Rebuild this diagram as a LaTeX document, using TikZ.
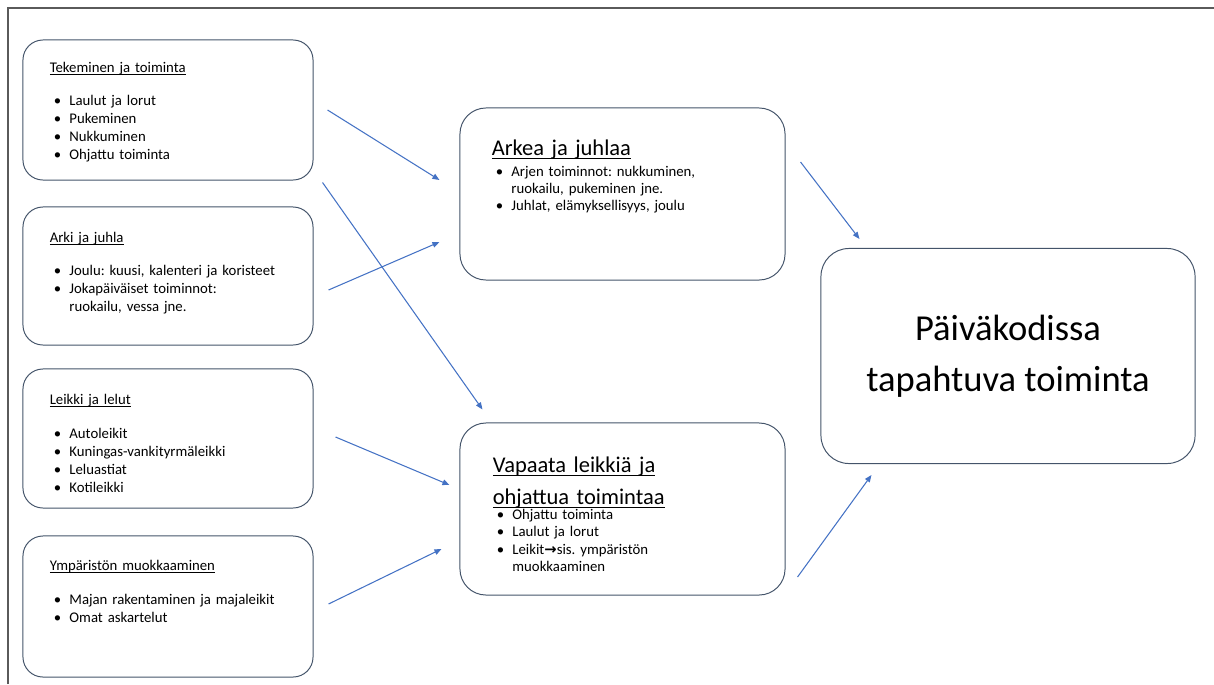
\documentclass[tikz,border=0pt]{standalone}
\usepackage{fontspec}
\setmainfont{Carlito}
\newfontfamily\symfont{DejaVu Sans}
\usetikzlibrary{arrows.meta}
\definecolor{boxline}{RGB}{68,84,106}
\definecolor{arrowblue}{RGB}{68,114,196}
\definecolor{frameline}{RGB}{90,90,90}
\frenchspacing
% underline at a fixed depth, as in the slide
\newcommand{\hdr}[1]{\leavevmode\setbox0\hbox{#1}\rlap{\rule[-0.16em]{\wd0}{0.055em}}#1}
\newcommand{\bul}{\leavevmode\hspace*{3pt}\makebox[11pt][l]{\textbullet}}
\newcommand{\cont}{\leavevmode\hspace*{14pt}}

\begin{document}
\begin{tikzpicture}[
    x=0.025cm, y=-0.025cm,
    topic/.style = {shape=rectangle, rounded corners=0.5cm, draw=boxline, line width=0.7pt, minimum width=7.25cm, inner sep=0},
    theme/.style = {topic, rounded corners=0.65cm, minimum width=8.125cm, minimum height=4.3cm},
    goal/.style = {topic, rounded corners=0.7cm, minimum width=9.35cm, minimum height=5.375cm, align=center, font=\fontsize{26}{36}\selectfont},
    list/.style = {anchor=base west, inner sep=0, text width=6.5cm, align=left, font=\fontsize{10.5}{12.8}\selectfont},
    title/.style = {anchor=base west, inner sep=0, text width=7cm, align=left, font=\fontsize{16}{23}\selectfont},
    link/.style = {draw=arrowblue, line width=0.75pt, -{Triangle[length=5pt,width=4pt]}}
  ]
  \useasboundingbox (0,0) rectangle (1214,684);
  \draw[frameline, line width=0.8pt] (8,684) -- (8,8) -- (1214,8);

  % left column
  \node[topic, minimum height=3.5cm] (tekeminen) at (168,110) {};
  \node[topic, minimum height=3.45cm] (arki) at (168,276) {};
  \node[topic, minimum height=3.475cm] (leikki) at (168,438.5) {};
  \node[topic, minimum height=3.525cm] (ymparisto) at (168,606.5) {};

  \node[list] (tekeminentxt) at ([shift={(27,33)}]tekeminen.north west) {
    \hdr{Tekeminen ja toiminta}\\[10.5pt]
    \bul Laulut ja lorut\\
    \bul Pukeminen\\
    \bul Nukkuminen\\
    \bul Ohjattu toiminta};
  \node[list] (arkitxt) at ([shift={(27,36)}]arki.north west) {
    \hdr{Arki ja juhla}\\[10.5pt]
    \bul Joulu: kuusi, kalenteri ja koristeet\\
    \bul Jokapäiväiset toiminnot:\\
    \cont ruokailu, vessa jne.};
  \node[list] (leikkitxt) at ([shift={(27,36)}]leikki.north west) {
    \hdr{Leikki ja lelut}\\[11.5pt]
    \bul Autoleikit\\
    \bul Kuningas-vankityrmäleikki\\
    \bul Leluastiat\\
    \bul Kotileikki};
  \node[list] (ymparistotxt) at ([shift={(27,35)}]ymparisto.north west) {
    \hdr{Ympäristön muokkaaminen}\\[11.5pt]
    \bul Majan rakentaminen ja majaleikit\\
    \bul Omat askartelut};

  % middle column
  \node[theme] (arkea) at (622.5,194) {};
  \node[theme] (vapaata) at (622.5,509) {};

  \node[title] (arkeattl) at ([shift={(32,48)}]arkea.north west) {\hdr{Arkea ja juhlaa}};
  \node[list, font=\fontsize{10.5}{12}\selectfont] (arkeatxt) at ([shift={(32,69)}]arkea.north west) {
    \bul Arjen toiminnot: nukkuminen,\\
    \cont ruokailu, pukeminen jne.\\
    \bul Juhlat, elämyksellisyys, joulu};
  \node[title] (vapaatattl) at ([shift={(33,50)}]vapaata.north west) {
    \hdr{Vapaata leikkiä ja}\\
    \hdr{ohjattua toimintaa}};
  \node[list, font=\fontsize{10.5}{12.4}\selectfont] (vapaatatxt) at ([shift={(33,97)}]vapaata.north west) {
    \bul Ohjattu toiminta\\
    \bul Laulut ja lorut\\
    \bul Leikit{\symfont\bfseries →}sis. ympäristön\\
    \cont muokkaaminen};

  % right
  \node[goal] (paivakoti) at (1008,356) {Päiväkodissa\\tapahtuva toiminta};

  % arrows
  \draw[link] ([shift={(14,0)}]tekeminen.east) -- ([shift={(-20,-14)}]arkea.west);
  \draw[link] ([shift={(9,2)}]tekeminen.south east) -- ([shift={(23,-13)}]vapaata.north west);
  \draw[link] ([shift={(15,14)}]arki.east) -- ([shift={(-20,48)}]arkea.west);
  \draw[link] ([shift={(22,-1.5)}]leikki.east) -- ([shift={(-10,-24)}]vapaata.west);
  \draw[link] ([shift={(15,-2.5)}]ymparisto.east) -- ([shift={(-18,40)}]vapaata.west);
  \draw[link] ([shift={(15,-32)}]arkea.east) -- ([shift={(39,-9)}]paivakoti.north west);
  \draw[link] ([shift={(12,68)}]vapaata.east) -- ([shift={(51,11)}]paivakoti.south west);
\end{tikzpicture}
\end{document}
